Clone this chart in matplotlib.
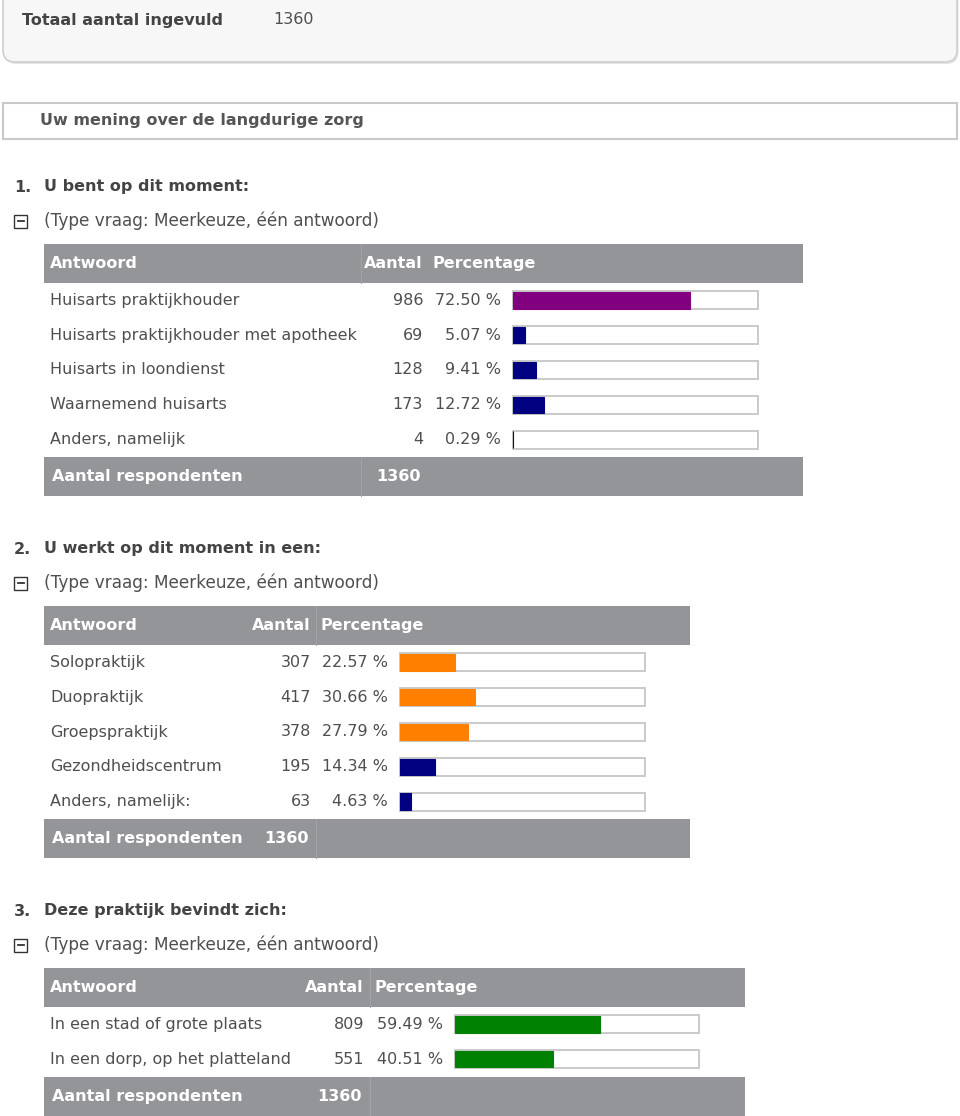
import matplotlib
matplotlib.use("Agg")
from matplotlib import pyplot as plt
from matplotlib.patches import Rectangle, FancyBboxPatch

plt.rcParams['font.family'] = ['DejaVu Sans']

# Survey data
total_filled = 1360
block_title = "Uw mening over de langdurige zorg"
question_type = "(Type vraag: Meerkeuze, één antwoord)"

q1_title = "U bent op dit moment:"
q1_labels = ["Huisarts praktijkhouder", "Huisarts praktijkhouder met apotheek",
             "Huisarts in loondienst", "Waarnemend huisarts", "Anders, namelijk"]
q1_counts = [986, 69, 128, 173, 4]
q1_pcts = [72.50, 5.07, 9.41, 12.72, 0.29]
q1_colors = ["#800080", "#000080", "#000080", "#000080", "#000080"]

q2_title = "U werkt op dit moment in een:"
q2_labels = ["Solopraktijk", "Duopraktijk", "Groepspraktijk",
             "Gezondheidscentrum", "Anders, namelijk:"]
q2_counts = [307, 417, 378, 195, 63]
q2_pcts = [22.57, 30.66, 27.79, 14.34, 4.63]
q2_colors = ["#ff8000", "#ff8000", "#ff8000", "#000080", "#000080"]

q3_title = "Deze praktijk bevindt zich:"
q3_labels = ["In een stad of grote plaats", "In een dorp, op het platteland"]
q3_counts = [809, 551]
q3_pcts = [59.49, 40.51]
q3_colors = ["#008000", "#008000"]

respondents = [1360, 1360, 1360]

W, H = 960, 1116
FS = 11.5
grey = "#939598"
divider = "#a2a3a6"
txt = "#4f4f4f"
title_col = "#444444"

fig = plt.figure(figsize=(W / 100, H / 100), dpi=100)
ax = fig.add_axes([0, 0, 1, 1])
ax.set_xlim(0, W)
ax.set_ylim(H, 0)
ax.axis('off')

# top summary box (slight shadow, then the box)
ax.add_patch(FancyBboxPatch((4.5, -28), 954, 92, boxstyle="round,pad=0,rounding_size=12",
                            facecolor="#e4e4e4", edgecolor='none'))
ax.add_patch(FancyBboxPatch((3, -30), 954, 92, boxstyle="round,pad=0,rounding_size=12",
                            facecolor="#f7f7f7", edgecolor="#d2d2d2", lw=1.3))
ax.text(22, 20, "Totaal aantal ingevuld", fontsize=FS, fontweight='bold', color=title_col, va='center')
ax.text(273, 20, str(total_filled), fontsize=FS, color=txt, va='center')

# block header box
ax.add_patch(Rectangle((3, 103), 954, 36, facecolor="white", edgecolor="#c8c8c8", lw=1.5))
ax.text(40, 121, block_title, fontsize=FS, fontweight='bold', color="#555555", va='center')


def draw_question(num, title, labels, counts, pcts, colors, n_resp,
                  title_y, table_right, div_x, count_x, pct_x, bar_x0, bar_x1):
    ax.text(14, title_y, "%d." % num, fontsize=FS, fontweight='bold', color=title_col, va='center')
    ax.text(44, title_y, title, fontsize=FS, fontweight='bold', color=title_col, va='center')

    # collapse icon + type line
    ty = title_y + 34
    ax.add_patch(Rectangle((14, ty - 6.5), 13, 13, facecolor="white", edgecolor="#333333", lw=1))
    ax.plot([17.5, 23.5], [ty, ty], color="#333333", lw=1.3)
    ax.text(44, ty, question_type, fontsize=12.2, color=txt, va='center')

    # header row
    hy = title_y + 57
    hh = 39
    ax.add_patch(Rectangle((44, hy), table_right - 44, hh, facecolor=grey, edgecolor='none'))
    ax.plot([div_x, div_x], [hy, hy + hh], color=divider, lw=0.8)
    ax.text(50, hy + hh / 2, "Antwoord", fontsize=FS, fontweight='bold', color='white', va='center')
    ax.text(count_x, hy + hh / 2, "Aantal", fontsize=FS, fontweight='bold', color='white', va='center', ha='right')
    ax.text(count_x + 10, hy + hh / 2, "Percentage", fontsize=FS, fontweight='bold', color='white', va='center')

    # answer rows
    rows_top = hy + hh
    row_h = 34.8
    n = len(labels)
    for i in range(n):
        y = rows_top + (i + 0.5) * row_h
        ax.text(50, y, labels[i], fontsize=FS, color=txt, va='center')
        ax.text(count_x, y, str(counts[i]), fontsize=FS, color=txt, va='center', ha='right')
        ax.text(pct_x, y, "%.2f %%" % pcts[i], fontsize=FS, color=txt, va='center', ha='right')

    # bars drawn on their own axes (0-100 %)
    bax = fig.add_axes([bar_x0 / W, 1 - (rows_top + n * row_h) / H,
                        (bar_x1 - bar_x0) / W, n * row_h / H])
    pos = list(range(n))
    bax.barh(pos, [100] * n, height=0.52, color='white', edgecolor='#c6c6c6', lw=1.3)
    bax.barh(pos, pcts, height=0.47, color=colors, edgecolor=colors, lw=0.8)
    bax.set_xlim(-0.3, 100.6)
    bax.set_ylim(n - 0.5, -0.5)
    bax.axis('off')

    # footer row
    fy = rows_top + n * row_h
    ax.add_patch(Rectangle((44, fy), table_right - 44, hh, facecolor=grey, edgecolor='none'))
    ax.plot([div_x, div_x], [fy, fy + hh], color=divider, lw=0.8)
    ax.text(52, fy + hh / 2, "Aantal respondenten", fontsize=FS, fontweight='bold', color='white', va='center')
    ax.text(count_x - 2, fy + hh / 2, str(n_resp), fontsize=FS, fontweight='bold', color='white', va='center', ha='right')


draw_question(1, q1_title, q1_labels, q1_counts, q1_pcts, q1_colors, respondents[0],
              187, 803, 361, 423, 501, 512, 759)
draw_question(2, q2_title, q2_labels, q2_counts, q2_pcts, q2_colors, respondents[1],
              549, 690, 316, 311, 388, 399, 646)
draw_question(3, q3_title, q3_labels, q3_counts, q3_pcts, q3_colors, respondents[2],
              911, 745, 370, 364, 443, 454, 700)

fig.savefig("out.png", dpi=100, facecolor='white')
